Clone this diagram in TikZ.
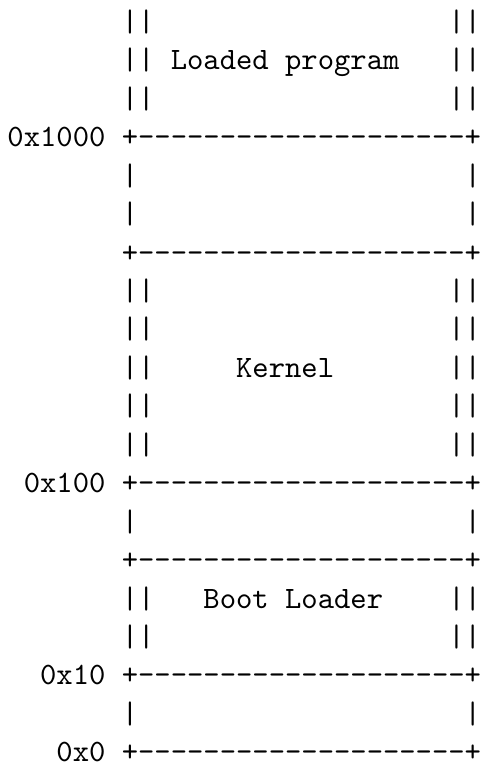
\documentclass[tikz,border=0pt]{standalone}
\newcommand\dd{-\kern0pt}
\newcommand\sepline{+\kern0pt\dd\dd\dd\dd\dd\dd\dd\dd\dd\dd\dd\dd\dd\dd\dd\dd\dd\dd\dd\dd+}
\tikzset{
  asc/.style={font=\ttfamily\fontsize{10}{12}\selectfont, inner sep=0pt, outer sep=0pt, anchor=base west},
}
\begin{document}
\begin{tikzpicture}[x=0.3215pt, y=-0.3215pt]
\path[use as bounding box] (0,0) rectangle (482,765);
\begin{scope}[shift={(2.411pt,-10.1pt)}, x=5.25pt, y=-12.36pt]
% Loaded program region
\node[asc] (l0) at (7,0) {||};   \node[asc] (r0) at (27,0) {||};
\node[asc] (l1) at (7,1) {||};   \node[asc] (lp) at (10,1) {Loaded program}; \node[asc] (r1) at (27,1) {||};
\node[asc] (l2) at (7,2) {||};   \node[asc] (r2) at (27,2) {||};
\node[asc] (a1000) at (0,3) {0x1000}; \node[asc] (s3) at (7,3) {\sepline};
% gap
\node[asc] (l4) at (7,4) {|};    \node[asc] (r4) at (28,4) {|};
\node[asc] (l5) at (7,5) {|};    \node[asc] (r5) at (28,5) {|};
\node[asc] (s6) at (7,6) {\sepline};
% Kernel region
\node[asc] (l7) at (7,7) {||};   \node[asc] (r7) at (27,7) {||};
\node[asc] (l8) at (7,8) {||};   \node[asc] (r8) at (27,8) {||};
\node[asc] (l9) at (7,9) {||};   \node[asc] (kern) at (14,9) {Kernel}; \node[asc] (r9) at (27,9) {||};
\node[asc] (l10) at (7,10) {||}; \node[asc] (r10) at (27,10) {||};
\node[asc] (l11) at (7,11) {||}; \node[asc] (r11) at (27,11) {||};
\node[asc] (a100) at (1,12) {0x100}; \node[asc] (s12) at (7,12) {\sepline};
% gap
\node[asc] (l13) at (7,13) {|};  \node[asc] (r13) at (28,13) {|};
\node[asc] (s14) at (7,14) {\sepline};
% Boot loader region
\node[asc] (l15) at (7,15) {||}; \node[asc] (boot) at (12,15) {Boot Loader}; \node[asc] (r15) at (27,15) {||};
\node[asc] (l16) at (7,16) {||}; \node[asc] (r16) at (27,16) {||};
\node[asc] (a10) at (2,17) {0x10}; \node[asc] (s17) at (7,17) {\sepline};
% gap
\node[asc] (l18) at (7,18) {|};  \node[asc] (r18) at (28,18) {|};
\node[asc] (a0) at (3,19) {0x0}; \node[asc] (s19) at (7,19) {\sepline};
\end{scope}
\end{tikzpicture}
\end{document}
